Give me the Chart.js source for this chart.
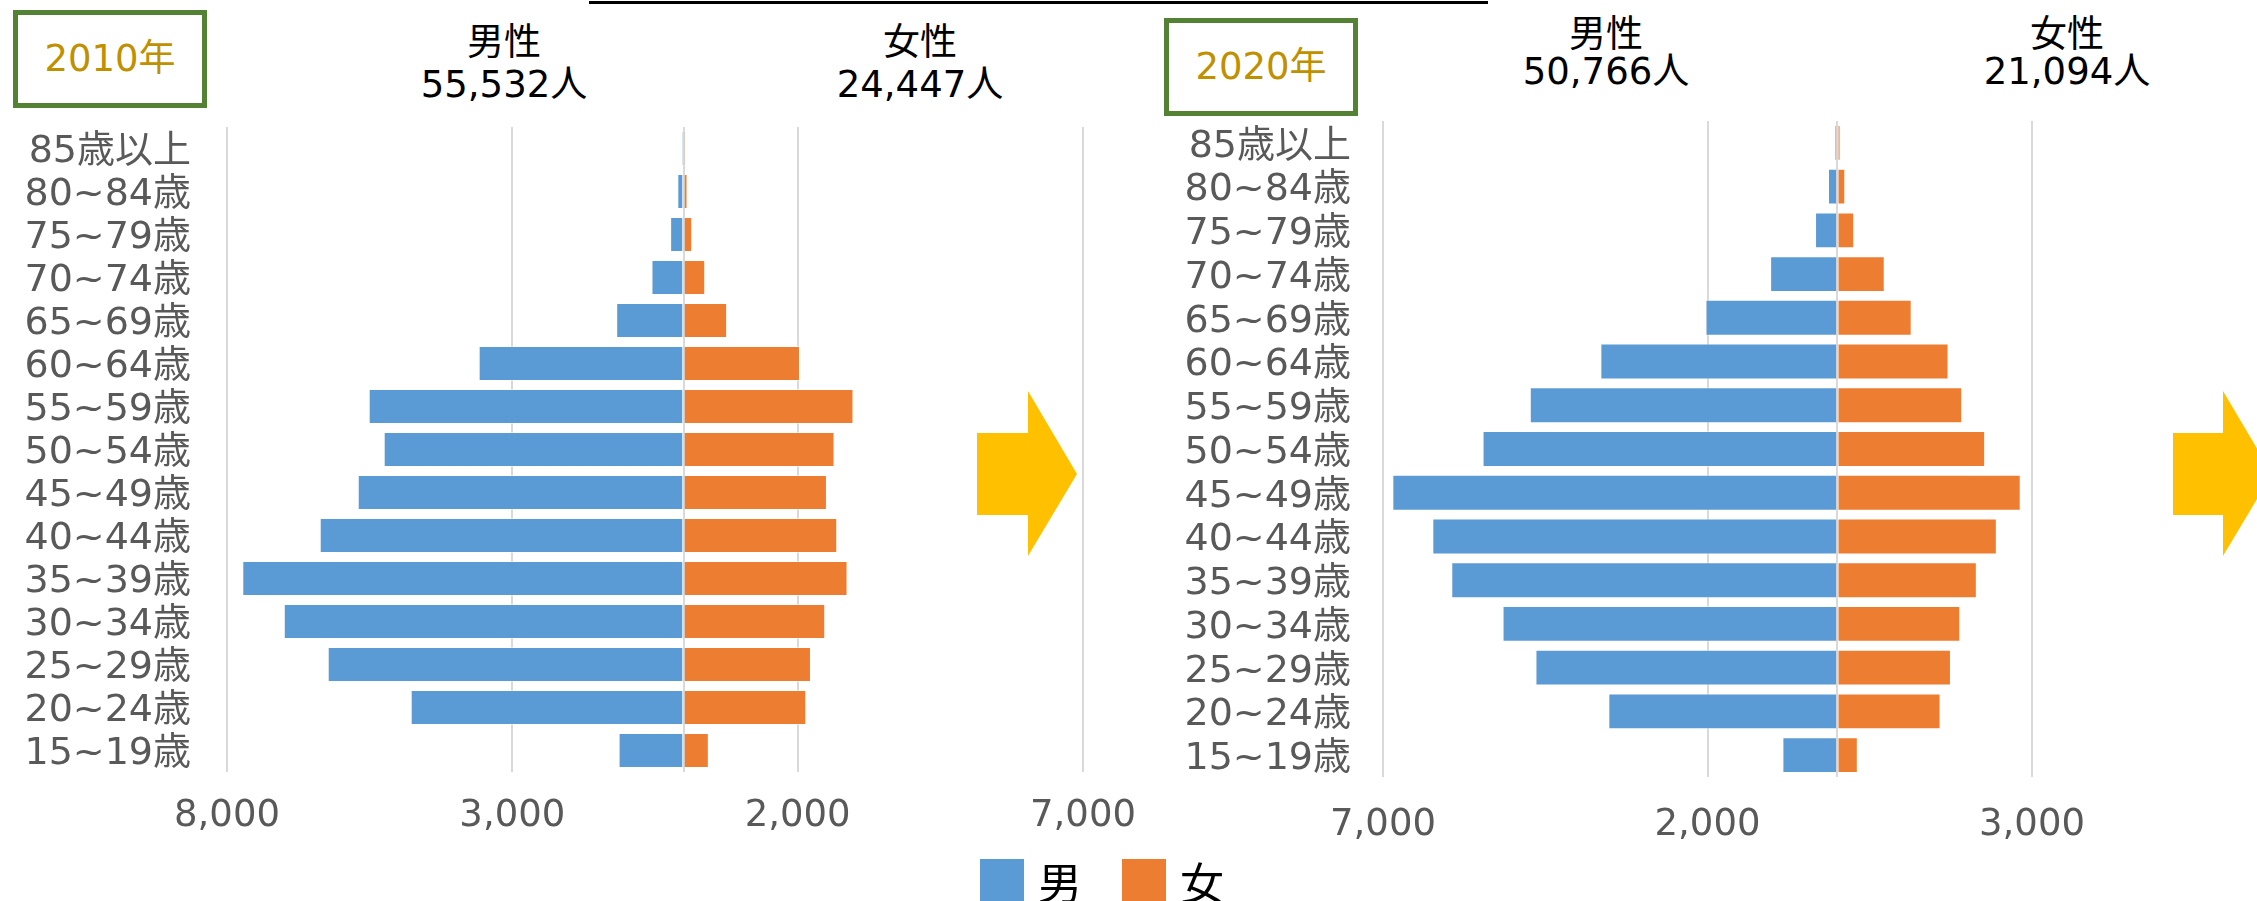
<!DOCTYPE html>
<html>
<head>
<meta charset="utf-8">
<script src="https://cdn.jsdelivr.net/npm/chart.js@4"></script>
<style>
  body { margin: 0; background: #fff; width: 2257px; height: 901px; overflow: hidden; position: relative;
         font-family: 'DejaVu Sans', 'Noto Sans CJK JP', sans-serif; }
  canvas { position: absolute; top: 0; }
  .yearbox { position: absolute; width: 184px; height: 88px; border: 5px solid #548235; color: #BF9000;
             font-size: 37px; line-height: 88px; text-align: center; }
  .head { position: absolute; width: 260px; text-align: center; color: #000; font-size: 37px; }
  .topline { position: absolute; left: 589px; top: 1px; width: 899px; height: 3px; background: #000; }
  .lg-box { position: absolute; top: 859px; width: 44px; height: 44px; }
  .lg-txt { position: absolute; top: 849px; font-size: 44px; color: #000; }
</style>
</head>
<body>
<div class="topline"></div>

<div class="yearbox" style="left:13px; top:10px;">2010年</div>
<div class="head" style="left:374px; top:22px; line-height:42px;">男性<br>55,532人</div>
<div class="head" style="left:790px; top:22px; line-height:42px;">女性<br>24,447人</div>

<div class="yearbox" style="left:1164px; top:18px;">2020年</div>
<div class="head" style="left:1476px; top:16px; line-height:37px;">男性<br>50,766人</div>
<div class="head" style="left:1937px; top:16px; line-height:37px;">女性<br>21,094人</div>

<canvas id="chart2010" width="1170" height="901" style="left:0;"></canvas>
<canvas id="chart2020" width="1127" height="901" style="left:1130px;"></canvas>

<svg width="2257" height="901" style="position:absolute; left:0; top:0;">
  <polygon points="977,433 1028,433 1028,391 1077,474 1028,556 1028,515 977,515" fill="#FFC000"/>
  <polygon points="2173,433 2223,433 2223,391 2272,474 2223,556 2223,515 2173,515" fill="#FFC000"/>
</svg>

<div class="lg-box" style="left:980px; background:#5B9BD5;"></div>
<div class="lg-txt" style="left:1038px;">男</div>
<div class="lg-box" style="left:1122px; background:#ED7D31;"></div>
<div class="lg-txt" style="left:1180px;">女</div>

<script>
var ageLabels = ["85歳以上", "80~84歳", "75~79歳", "70~74歳", "65~69歳", "60~64歳", "55~59歳",
  "50~54歳", "45~49歳", "40~44歳", "35~39歳", "30~34歳", "25~29歳", "20~24歳", "15~19歳"];

var male2010 = [35, 109, 235, 562, 1180, 3590, 5517, 5254, 5709, 6375, 7732, 7005, 6235, 4781, 1138];
var female2010 = [30, 70, 152, 380, 764, 2040, 2978, 2646, 2513, 2693, 2874, 2483, 2233, 2151, 443];

var male2020 = [40, 143, 343, 1035, 2031, 3651, 4738, 5466, 6856, 6240, 5948, 5158, 4651, 3528, 846];
var female2020 = [50, 123, 261, 731, 1146, 1714, 1925, 2278, 2826, 2458, 2150, 1894, 1751, 1591, 316];

var ticks2010 = [-8000, -3000, 0, 2000, 7000];
var ticks2020 = [-7000, -2000, 0, 3000];

var blue = "#5B9BD5";
var orange = "#ED7D31";
var fontFamily = "'DejaVu Sans', 'Noto Sans CJK JP', sans-serif";

function pyramid(id, male, female, tickValues, s) {
  return new Chart(id, {
    type: "bar",
    data: {
      labels: ageLabels,
      datasets: [{
        label: "男",
        data: male.map(function (v) { return -v; }),
        backgroundColor: blue,
        borderColor: "rgba(255,255,255,0.5)",
        borderWidth: 1,
        barPercentage: s.bar,
        categoryPercentage: 1
      }, {
        label: "女",
        data: female,
        backgroundColor: orange,
        borderColor: "rgba(255,255,255,0.5)",
        borderWidth: 1,
        barPercentage: s.bar,
        categoryPercentage: 1
      }]
    },
    options: {
      indexAxis: "y",
      responsive: false,
      animation: false,
      devicePixelRatio: 1,
      layout: { padding: { top: s.top, right: s.right, bottom: 0, left: 0 } },
      plugins: { legend: { display: false }, tooltip: { enabled: false } },
      scales: {
        x: {
          stacked: true,
          min: tickValues[0],
          max: tickValues[tickValues.length - 1],
          afterBuildTicks: function (axis) {
            axis.ticks = tickValues.map(function (v) { return { value: v }; });
          },
          afterFit: function (axis) {
            axis.height = s.xh;
            axis.paddingLeft = 0;
            axis.paddingRight = 0;
          },
          border: { display: false },
          grid: { color: "#D9D9D9", lineWidth: 2, drawTicks: false },
          ticks: {
            padding: s.pad,
            color: "#595959",
            font: { family: fontFamily, size: 37 },
            callback: function (v) { return v === 0 ? "" : Math.abs(v).toLocaleString("en-US"); }
          }
        },
        y: {
          stacked: true,
          afterFit: function (axis) {
            axis.width = s.yw;
            axis.paddingTop = 0;
            axis.paddingBottom = 0;
          },
          border: { display: false },
          grid: { display: false },
          ticks: {
            autoSkip: false,
            padding: s.ypad,
            labelOffset: 4,
            color: "#595959",
            font: { family: fontFamily, size: 38 }
          }
        }
      }
    }
  });
}

pyramid("chart2010", male2010, female2010, ticks2010, { top: 127, right: 87, xh: 129, yw: 227, bar: 0.81, pad: 22, ypad: 28 });
pyramid("chart2020", male2020, female2020, ticks2020, { top: 121, right: 225, xh: 124, yw: 253, bar: 0.82, pad: 26, ypad: 24 });
</script>
</body>
</html>
